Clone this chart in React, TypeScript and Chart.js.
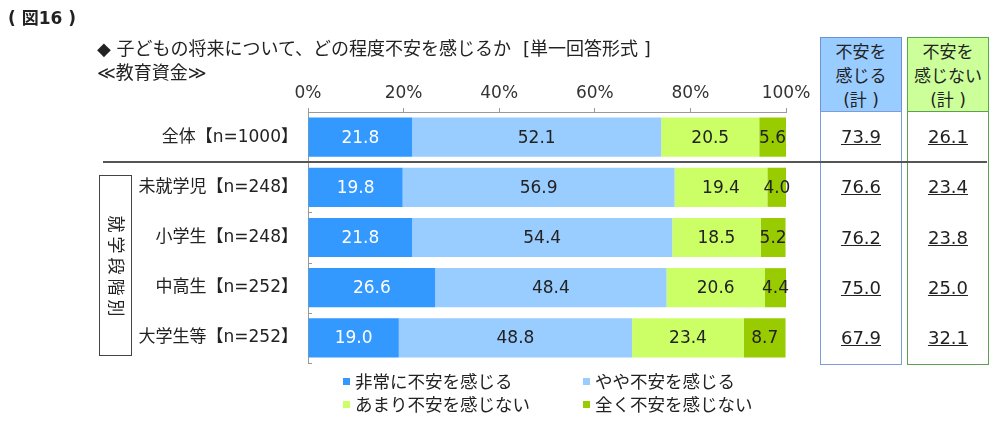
import React, { useEffect, useRef, useState } from "react";
import { Chart, registerables } from "chart.js";

Chart.register(...registerables);

const categories = ["全体【n=1000】", "未就学児【n=248】", "小学生【n=248】", "中高生【n=252】", "大学生等【n=252】"];
const seriesNames = ["非常に不安を感じる", "やや不安を感じる", "あまり不安を感じない", "全く不安を感じない"];
const verySeries = [21.8, 19.8, 21.8, 26.6, 19.0];
const somewhatSeries = [52.1, 56.9, 54.4, 48.4, 48.8];
const notMuchSeries = [20.5, 19.4, 18.5, 20.6, 23.4];
const notAtAllSeries = [5.6, 4.0, 5.2, 4.4, 8.7];
const anxiousTotal = [73.9, 76.6, 76.2, 75.0, 67.9];
const notAnxiousTotal = [26.1, 23.4, 23.8, 25.0, 32.1];
const tickValues = [0, 20, 40, 60, 80, 100];

const colors = ["#3399FF", "#99CCFF", "#CCFF66", "#99CC00"];
const labelColors = ["#FFFFFF", "#222222", "#222222", "#222222"];
const FONT = "'DejaVu Sans', 'Noto Sans CJK JP', sans-serif";

const labelPlugin = {
  id: "segLabels",
  afterDatasetsDraw(chart: any) {
    const ctx = chart.ctx;
    ctx.save();
    ctx.font = `17px ${FONT}`;
    ctx.textAlign = "center";
    ctx.textBaseline = "middle";
    chart.data.datasets.forEach((ds: any, di: number) => {
      const meta = chart.getDatasetMeta(di);
      meta.data.forEach((bar: any, i: number) => {
        const v = ds.data[i];
        const cx = (bar.x + bar.base) / 2;
        ctx.fillStyle = labelColors[di];
        ctx.fillText(v.toFixed(1), cx, bar.y + 1);
      });
    });
    const y = chart.scales.y;
    const left = chart.chartArea.left;
    ctx.strokeStyle = "#999";
    ctx.lineWidth = 1;
    for (let i = 0; i < categories.length; i++) {
      const yb = i < categories.length - 1
        ? (y.getPixelForValue(i) + y.getPixelForValue(i + 1)) / 2
        : chart.chartArea.bottom;
      ctx.beginPath();
      ctx.moveTo(left, Math.round(yb) + 0.5);
      ctx.lineTo(left + 4, Math.round(yb) + 0.5);
      ctx.stroke();
    }
    ctx.restore();
  },
};

export default function App() {
  const canvasRef = useRef<HTMLCanvasElement | null>(null);
  const [rowY, setRowY] = useState<number[]>([138, 188, 238, 288, 338]);

  useEffect(() => {
    const canvas = canvasRef.current;
    if (!canvas) return;
    const series = [verySeries, somewhatSeries, notMuchSeries, notAtAllSeries];
    const chart = new Chart(canvas, {
      type: "bar",
      data: {
        labels: categories,
        datasets: series.map((d, i) => ({
          label: seriesNames[i],
          data: d,
          backgroundColor: colors[i],
          borderWidth: 0,
          barPercentage: 0.78,
          categoryPercentage: 1.0,
        })),
      },
      options: {
        indexAxis: "y",
        responsive: false,
        animation: false,
        devicePixelRatio: 1,
        layout: { padding: { left: 0, top: 0, right: 213, bottom: 69 } },
        plugins: { legend: { display: false }, tooltip: { enabled: false }, title: { display: false } },
        scales: {
          x: {
            type: "linear",
            position: "top",
            stacked: true,
            min: 0,
            max: 100,
            afterBuildTicks: (scale: any) => {
              scale.ticks = tickValues.map((v) => ({ value: v }));
            },
            afterFit: (scale: any) => {
              scale.height = 112;
            },
            ticks: {
              callback: (v: any) => `${v}%`,
              font: { family: FONT, size: 17 },
              color: "#333",
              padding: 4,
              maxRotation: 0,
            },
            grid: { drawOnChartArea: false, drawTicks: true, tickLength: 4, color: "#999" },
            border: { display: true, color: "#999" },
          },
          y: {
            type: "category",
            stacked: true,
            afterFit: (scale: any) => {
              scale.width = 308;
            },
            ticks: {
              font: { family: FONT, size: 17 },
              color: "#222",
              padding: 10,
            },
            grid: { drawOnChartArea: false, drawTicks: false },
            border: { display: true, color: "#999" },
          },
        },
      } as any,
      plugins: [labelPlugin],
    });
    const ys = categories.map((_, i) => chart.scales.y.getPixelForValue(i));
    setRowY(ys);
    return () => chart.destroy();
  }, []);

  const abs = (s: React.CSSProperties): React.CSSProperties => ({ position: "absolute", ...s });
  const txt: React.CSSProperties = { fontFamily: FONT, color: "#222", whiteSpace: "nowrap" };

  return (
    <div style={{ position: "fixed", left: 0, top: 0, width: 999, height: 432, background: "#fff", overflow: "hidden" }}>
      <canvas ref={canvasRef} width={999} height={432} style={abs({ left: 0, top: 0, width: 999, height: 432 })} />

      <div style={abs({ ...txt, left: 8, top: 7, fontSize: 17, fontWeight: "bold", lineHeight: "22px" })}>( 図16 )</div>
      <div style={abs({ ...txt, left: 97, top: 38, fontSize: 18, lineHeight: "22px" })}>
        ◆ 子どもの将来について、どの程度不安を感じるか
      </div>
      <div style={abs({ ...txt, left: 523, top: 38, fontSize: 18, lineHeight: "22px" })}>[単一回答形式 ]</div>
      <div style={abs({ ...txt, left: 97, top: 62, fontSize: 18, lineHeight: "22px" })}>≪教育資金≫</div>

      {/* group box */}
      <div style={abs({ left: 99, top: 175, width: 33, height: 181, border: "1.5px solid #444", boxSizing: "border-box" })} />
      <div
        style={abs({
          ...txt,
          left: 115.5,
          top: 268,
          fontSize: 17,
          transform: "translate(-50%, -50%) rotate(90deg)",
          lineHeight: "18px",
          letterSpacing: 4,
        })}
      >
        就学段階別
      </div>

      {/* right table */}
      <div style={abs({ left: 820, top: 37, width: 82, height: 75, background: "#99CCFF", border: "1px solid #6F8FD6", boxSizing: "border-box" })} />
      <div style={abs({ left: 820, top: 111, width: 82, height: 254, border: "1px solid #7F9BDA", boxSizing: "border-box" })} />
      <div style={abs({ left: 907, top: 37, width: 82, height: 75, background: "#CCFF99", border: "1px solid #5AA64A", boxSizing: "border-box" })} />
      <div style={abs({ left: 907, top: 111, width: 82, height: 254, border: "1px solid #5E9E55", boxSizing: "border-box" })} />
      <div style={abs({ ...txt, left: 820, top: 40, width: 82, textAlign: "center", fontSize: 17, lineHeight: "24px", whiteSpace: "pre" })}>
        {"不安を\n感じる\n(計 )"}
      </div>
      <div style={abs({ ...txt, left: 907, top: 40, width: 82, textAlign: "center", fontSize: 17, lineHeight: "24px", whiteSpace: "pre" })}>
        {"不安を\n感じない\n(計 )"}
      </div>

      {/* separator */}
      <div style={abs({ left: 103, top: 161, width: 884, height: 0, borderTop: "2px solid #555" })} />

      {rowY.map((y, i) => (
        <React.Fragment key={i}>
          <div style={abs({ ...txt, left: 820, top: y - 11, width: 82, textAlign: "center", fontSize: 18, lineHeight: "22px", textDecoration: "underline" })}>
            {anxiousTotal[i].toFixed(1)}
          </div>
          <div style={abs({ ...txt, left: 907, top: y - 11, width: 82, textAlign: "center", fontSize: 18, lineHeight: "22px", textDecoration: "underline" })}>
            {notAnxiousTotal[i].toFixed(1)}
          </div>
        </React.Fragment>
      ))}

      {/* legend */}
      {seriesNames.map((name, i) => {
        const col = i % 2;
        const row = Math.floor(i / 2);
        const lx = col === 0 ? 343 : 583;
        const ly = 382 + row * 23;
        return (
          <React.Fragment key={name}>
            <div style={abs({ left: lx, top: ly - 4, width: 7, height: 7, background: colors[i] })} />
            <div style={abs({ ...txt, left: lx + 12, top: ly - 11, fontSize: 17.5, lineHeight: "22px" })}>{name}</div>
          </React.Fragment>
        );
      })}
    </div>
  );
}
